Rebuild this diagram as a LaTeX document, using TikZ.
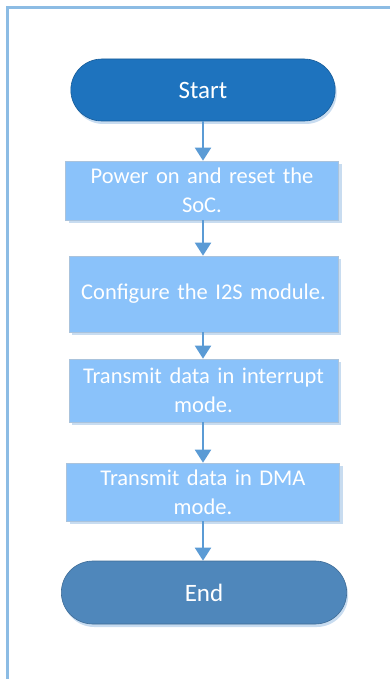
\documentclass[tikz,border=0pt]{standalone}
\usepackage{fontspec}
\setmainfont{Carlito}
\usetikzlibrary{shapes.misc,arrows.meta,shadows}
\definecolor{startc}{RGB}{30,115,190}
\definecolor{endc}{RGB}{79,135,187}
\definecolor{boxc}{RGB}{138,194,250}
\definecolor{arrc}{RGB}{91,155,213}
\definecolor{framec}{RGB}{140,188,228}
\definecolor{shadc}{RGB}{200,220,240}
\definecolor{edgec}{RGB}{170,195,220}
\begin{document}
\begin{tikzpicture}[x=1pt,y=-1pt,
  term/.style={rounded rectangle, minimum width=271pt, minimum height=62pt, draw=#1!80!black, line width=0.6pt, fill=#1, text=white, font=\fontsize{25}{30}\selectfont,
    drop shadow={shadow xshift=1.5pt, shadow yshift=-3pt, fill=shadc, opacity=1}},
  stepbox/.style={rectangle, draw=edgec, line width=0.6pt, fill=boxc, text=white, align=center, inner sep=0pt, font=\fontsize{22.5}{29}\selectfont,
    drop shadow={shadow xshift=3pt, shadow yshift=-3pt, fill=shadc, opacity=1}},
  flow/.style={draw=arrc, line width=2pt, -{Triangle[width=16pt,length=13pt]}}]
\useasboundingbox (0,0) rectangle (390,679);
\draw[framec, line width=3pt] (7.5,679) -- (7.5,8) -- (390,8);
\node[term=startc] (start) at (203,90) {Start};
\node[stepbox, minimum width=273pt, minimum height=59pt, text width=270pt] (s1) at (202,190.5) {Power on and reset the\\SoC.};
\node[stepbox, minimum width=269pt, minimum height=76pt, text width=266pt] (s2) at (203.5,294) {Configure the I2S module.};
\node[stepbox, minimum width=269pt, minimum height=63pt, text width=266pt] (s3) at (203.5,390.5) {Transmit data in interrupt\\mode.};
\node[stepbox, minimum width=273pt, minimum height=58pt, text width=270pt] (s4) at (203,492) {Transmit data in DMA\\mode.};
\node[term=endc, minimum width=292pt, minimum height=63pt] (end) at (204,592.5) {End};
\coordinate (ax) at (203,0);
\draw[flow] (ax |- start.south) -- (ax |- s1.north);
\draw[flow] (ax |- s1.south) -- (ax |- s2.north);
\draw[flow] (ax |- s2.south) -- (ax |- s3.north);
\draw[flow] (ax |- s3.south) -- (ax |- s4.north);
\draw[flow] (ax |- s4.south) -- (ax |- end.north);
\end{tikzpicture}
\end{document}
